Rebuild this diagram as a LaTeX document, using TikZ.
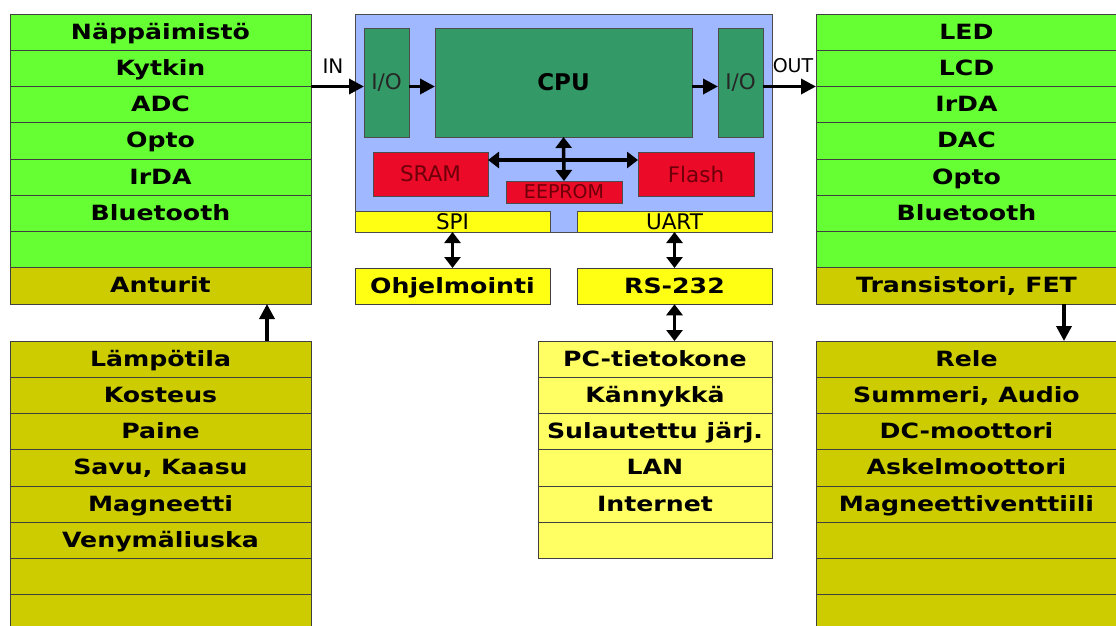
\documentclass[tikz,border=0pt]{standalone}
\usepackage{fontspec}
\setmainfont{DejaVu Sans}
\newfontfamily\rowfont{DejaVu Sans}[FakeStretch=1.2]
\usepackage{xcolor}
\usepackage{tikz}
\usetikzlibrary{positioning,arrows.meta}

\definecolor{listgreen}{RGB}{102,255,51}
\definecolor{listolive}{RGB}{204,204,0}
\definecolor{busyellow}{RGB}{255,255,20}
\definecolor{paleyellow}{RGB}{255,255,100}
\definecolor{mcublue}{RGB}{160,184,255}
\definecolor{cpugreen}{RGB}{51,153,102}
\definecolor{memred}{RGB}{235,10,40}
\definecolor{memtext}{RGB}{110,0,10}

\begin{document}
\begin{tikzpicture}[x=1pt, y=-1pt, node distance=0pt,
    every node/.style={inner sep=0pt},
    row/.style={draw=black!75, line width=0.9pt, outer sep=0pt, minimum width=301pt, minimum height=36.25pt,
        text height=15pt, text depth=1pt, font=\rowfont\bfseries\fontsize{21}{25}\selectfont},
    unit/.style={draw=black!70, line width=0.9pt, outer sep=0pt, anchor=north west, font=\fontsize{21.5}{25}\selectfont},
    arrow/.style={-{Triangle[length=15pt,width=15pt]}, line width=3.5pt},
    dblarrow/.style={{Triangle[length=11pt,width=16pt]}-{Triangle[length=11pt,width=16pt]}, line width=3.5pt},
]
\useasboundingbox (0,0) rectangle (1116,625);
\fill[white] (0,0) rectangle (1116,625);
\clip (0,0) rectangle (1116,625);

% tulot
\node[row, fill=listgreen, anchor=north west] (nap) at (10,14) {Näppäimistö};
\node[row, fill=listgreen, below=of nap] (kyt) {Kytkin};
\node[row, fill=listgreen, below=of kyt] (adc) {ADC};
\node[row, fill=listgreen, below=of adc] (opto) {Opto};
\node[row, fill=listgreen, below=of opto] (irda) {IrDA};
\node[row, fill=listgreen, below=of irda] (bt) {Bluetooth};
\node[row, fill=listgreen, below=of bt] (tyhja1) {};
\node[row, fill=listolive, below=of tyhja1] (ant) {Anturit};

% anturit
\node[row, fill=listolive, anchor=north west] (lam) at (10,341) {Lämpötila};
\node[row, fill=listolive, below=of lam] (kos) {Kosteus};
\node[row, fill=listolive, below=of kos] (pai) {Paine};
\node[row, fill=listolive, below=of pai] (sav) {Savu, Kaasu};
\node[row, fill=listolive, below=of sav] (mag) {Magneetti};
\node[row, fill=listolive, below=of mag] (ven) {Venymäliuska};
\node[row, fill=listolive, below=of ven] (tyhja2) {};
\node[row, fill=listolive, below=of tyhja2] (tyhja3) {};

% lähdöt
\node[row, fill=listgreen, anchor=north west] (led) at (816,14) {LED};
\node[row, fill=listgreen, below=of led] (lcd) {LCD};
\node[row, fill=listgreen, below=of lcd] (irdao) {IrDA};
\node[row, fill=listgreen, below=of irdao] (dac) {DAC};
\node[row, fill=listgreen, below=of dac] (optoo) {Opto};
\node[row, fill=listgreen, below=of optoo] (bto) {Bluetooth};
\node[row, fill=listgreen, below=of bto] (tyhja4) {};
\node[row, fill=listolive, below=of tyhja4] (tra) {Transistori, FET};

% toimilaitteet
\node[row, fill=listolive, anchor=north west] (rel) at (816,341) {Rele};
\node[row, fill=listolive, below=of rel] (sum) {Summeri, Audio};
\node[row, fill=listolive, below=of sum] (dcm) {DC-moottori};
\node[row, fill=listolive, below=of dcm] (ask) {Askelmoottori};
\node[row, fill=listolive, below=of ask] (mvt) {Magneettiventtiili};
\node[row, fill=listolive, below=of mvt] (tyhja5) {};
\node[row, fill=listolive, below=of tyhja5] (tyhja6) {};
\node[row, fill=listolive, below=of tyhja6] (tyhja7) {};

% mikro-ohjain
\node[unit, fill=mcublue, minimum width=417pt, minimum height=218pt] (mcu) at (355,14) {};
\node[unit, fill=cpugreen, text=black!85, minimum width=45pt, minimum height=109pt] (io1) at (364,28) {I/O};
\node[unit, fill=cpugreen, minimum width=257pt, minimum height=109pt,
    font=\bfseries\fontsize{23}{27}\selectfont] (cpu) at (435,28) {CPU};
\node[unit, fill=cpugreen, text=black!85, minimum width=45pt, minimum height=109pt] (io2) at (718,28) {I/O};
\node[unit, fill=memred, text=memtext, minimum width=115pt, minimum height=44pt] (sram) at (373,152) {SRAM};
\node[unit, fill=memred, text=memtext, minimum width=116pt, minimum height=44pt] (flash) at (638,152) {Flash};
\node[unit, fill=memred, text=memtext, minimum width=116pt, minimum height=22pt,
    font=\fontsize{19}{22}\selectfont] (eeprom) at (506,181) {EEPROM};
\node[unit, fill=busyellow, minimum width=195pt, minimum height=21pt] (spi) at (355,211) {SPI};
\node[unit, fill=busyellow, minimum width=195pt, minimum height=21pt] (uart) at (577,211) {UART};

\node[row, fill=busyellow, minimum width=195pt, anchor=north west] (ohj) at (355,268) {Ohjelmointi};
\node[row, fill=busyellow, minimum width=195pt, anchor=north west] (rs) at (577,268) {RS-232};

% liitännät
\node[row, fill=paleyellow, minimum width=234pt, anchor=north west] (pc) at (538,341) {PC-tietokone};
\node[row, fill=paleyellow, minimum width=234pt, below=of pc] (kan) {Kännykkä};
\node[row, fill=paleyellow, minimum width=234pt, below=of kan] (sul) {Sulautettu järj.};
\node[row, fill=paleyellow, minimum width=234pt, below=of sul] (lan) {LAN};
\node[row, fill=paleyellow, minimum width=234pt, below=of lan] (inet) {Internet};
\node[row, fill=paleyellow, minimum width=234pt, below=of inet] (tyhja8) {};

\node[font=\fontsize{20}{24}\selectfont] (inlbl) at (333,66) {IN};
\node[font=\fontsize{19}{22}\selectfont] (outlbl) at (793,66) {OUT};

\coordinate (lvl) at (0,86.5);
\coordinate (bus) at (0,160);
\coordinate (upx) at (267,0);
\coordinate (dnx) at (1064,0);

\draw[arrow] (kyt.south east) -- (io1.west |- lvl);
\draw[arrow] (io1.east |- lvl) -- (cpu.west |- lvl);
\draw[arrow] (cpu.east |- lvl) -- (io2.west |- lvl);
\draw[arrow] (io2.east |- lvl) -- (lcd.south west);
\draw[dblarrow] (sram.east |- bus) -- (flash.west |- bus);
\draw[dblarrow] (cpu.south) -- (eeprom.north);
\draw[dblarrow] (spi.south) -- (ohj.north);
\draw[dblarrow] (uart.south) -- (rs.north);
\draw[dblarrow] (rs.south) -- (rs.south |- pc.north);
\draw[arrow] (lam.north -| upx) -- (ant.south -| upx);
\draw[arrow] (tra.south -| dnx) -- (rel.north -| dnx);
\end{tikzpicture}
\end{document}
